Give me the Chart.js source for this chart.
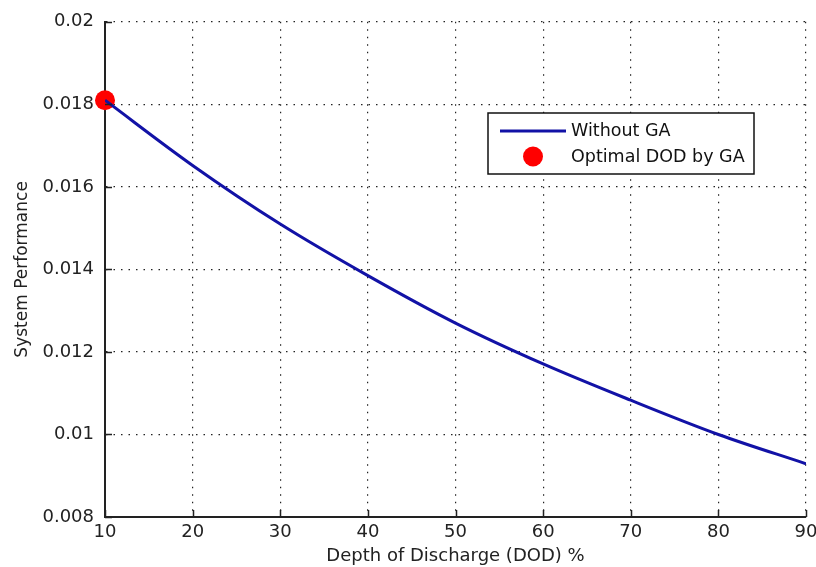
<!DOCTYPE html>
<html>
<head>
<meta charset="utf-8">
<script src="https://cdn.jsdelivr.net/npm/chart.js@4"></script>
<style>
  html, body { margin: 0; padding: 0; background: #fff; }
  #wrap { width: 816px; height: 567px; }
</style>
</head>
<body>
<div id="wrap"><canvas id="perfChart" width="816" height="567"></canvas></div>
<script>
// data
const dod = [10, 20, 30, 40, 50, 60, 70, 80, 90];
const perf = [0.0181, 0.01652, 0.0151, 0.01385, 0.0127, 0.01171, 0.01083, 0.0100, 0.00929];
const optDod = [10];
const optPerf = [0.0181];
const xTicks = [10, 20, 30, 40, 50, 60, 70, 80, 90];
const yTicks = [0.008, 0.01, 0.012, 0.014, 0.016, 0.018, 0.02];

const FONT = 'DejaVu Sans';
const BLUE = '#1212a6';

// inward tick marks, matlab style
const innerTicks = {
  id: 'innerTicks',
  afterDatasetsDraw(chart) {
    const { ctx, chartArea: a, scales: { x, y } } = chart;
    ctx.save();
    ctx.strokeStyle = '#222';
    ctx.lineWidth = 1.5;
    ctx.beginPath();
    xTicks.forEach(v => {
      const px = Math.round(x.getPixelForValue(v)) + 0.5;
      ctx.moveTo(px, a.bottom);
      ctx.lineTo(px, a.bottom - 7);
    });
    yTicks.forEach(v => {
      const py = Math.round(y.getPixelForValue(v)) + 0.5;
      ctx.moveTo(a.left, py);
      ctx.lineTo(a.left + 7, py);
    });
    ctx.stroke();
    ctx.restore();
  }
};

// legend box in the upper right of the axes
const boxLegend = {
  id: 'boxLegend',
  afterDraw(chart) {
    const { ctx } = chart;
    const ds = chart.data.datasets;
    const bx = 488, by = 113, bw = 266, bh = 61;
    ctx.save();
    ctx.fillStyle = '#fff';
    ctx.fillRect(bx, by, bw, bh);
    ctx.strokeStyle = '#111';
    ctx.lineWidth = 1.5;
    ctx.strokeRect(bx, by, bw, bh);
    // row 1: line
    ctx.strokeStyle = ds[0].borderColor;
    ctx.lineWidth = 3;
    ctx.beginPath();
    ctx.moveTo(500, 131);
    ctx.lineTo(566, 131);
    ctx.stroke();
    // row 2: marker
    ctx.fillStyle = ds[1].backgroundColor;
    ctx.beginPath();
    ctx.arc(533, 156.5, 10, 0, Math.PI * 2);
    ctx.fill();
    ctx.fillStyle = '#111';
    ctx.font = '17.5px ' + FONT;
    ctx.textBaseline = 'middle';
    ctx.fillText(ds[0].label, 571, 131);
    ctx.fillText(ds[1].label, 571, 157);
    ctx.restore();
  }
};

new Chart(document.getElementById('perfChart'), {
  type: 'line',
  data: {
    datasets: [{
      label: 'Without GA',
      data: dod.map((d, i) => ({ x: d, y: perf[i] })),
      borderColor: BLUE,
      borderWidth: 3,
      pointRadius: 0,
      tension: 0.4,
      cubicInterpolationMode: 'monotone',
      fill: false
    }, {
      label: 'Optimal DOD by GA',
      data: optDod.map((d, i) => ({ x: d, y: optPerf[i] })),
      showLine: false,
      clip: false,
      pointRadius: 10,
      pointBackgroundColor: '#ff0000',
      backgroundColor: '#ff0000',
      pointBorderWidth: 0,
      borderColor: '#ff0000'
    }]
  },
  options: {
    responsive: false,
    animation: false,
    layout: { padding: { top: 21, right: 0, left: 12, bottom: 0 } },
    plugins: {
      legend: { display: false },
      tooltip: { enabled: false }
    },
    scales: {
      x: {
        type: 'linear',
        min: 10,
        max: 90,
        afterBuildTicks: s => { s.ticks = xTicks.map(v => ({ value: v })); },
        afterFit: s => { s.height = 50; s.paddingRight = 10; s.paddingLeft = 0; },
        grid: { color: '#222', lineWidth: 1.2, drawTicks: false },
        border: { display: true, color: '#222', width: 2, dash: [1.5, 6] },
        ticks: {
          padding: 5,
          color: '#222',
          font: { family: FONT, size: 18 },
          maxRotation: 0
        },
        title: {
          display: true,
          text: 'Depth of Discharge (DOD) %',
          color: '#222',
          font: { family: FONT, size: 18 },
          padding: { top: 0, bottom: 0 }
        }
      },
      y: {
        min: 0.008,
        max: 0.02,
        afterBuildTicks: s => { s.ticks = yTicks.map(v => ({ value: v })); },
        afterFit: s => { s.width = 93; },
        grid: { color: '#222', lineWidth: 1.2, drawTicks: false },
        border: { display: true, color: '#222', width: 2, dash: [1.5, 6] },
        ticks: {
          padding: 11,
          color: '#222',
          font: { family: FONT, size: 18 },
          callback: v => String(+v.toFixed(3))
        },
        title: {
          display: true,
          text: 'System Performance',
          color: '#222',
          font: { family: FONT, size: 17 },
          padding: { top: 0, bottom: 0 }
        }
      }
    }
  },
  plugins: [innerTicks, boxLegend]
});
</script>
</body>
</html>
